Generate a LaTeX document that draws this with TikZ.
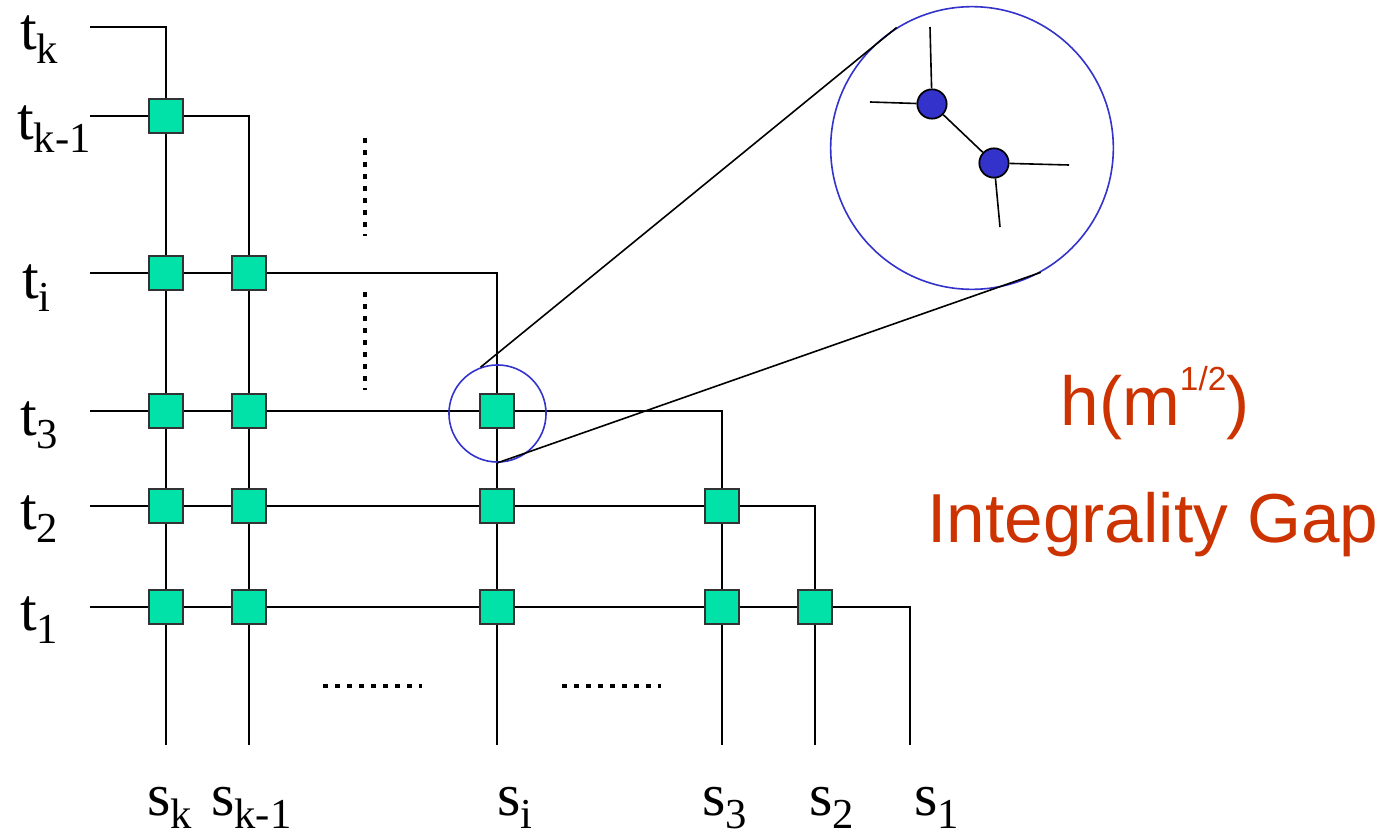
\documentclass[tikz,border=0pt]{standalone}
\usepackage{fontspec}
\setmainfont{Liberation Serif}
\newfontfamily\gapfont{Liberation Sans}
\definecolor{gatecol}{RGB}{0,226,168}
\definecolor{ringcol}{RGB}{51,51,204}
\definecolor{gapcol}{RGB}{204,51,0}
\newcommand{\lbl}[2]{#1\raisebox{-10pt}{\fontsize{32}{36}\selectfont #2}}
\tikzset{
  wire/.style={line width=1.4pt},
  gate/.style={draw=black!80,line width=1.3pt,fill=gatecol,minimum size=25pt,inner sep=0pt},
  vtx/.style={circle,draw=black,line width=1.3pt,fill=ringcol,minimum size=22pt,inner sep=0pt},
  ring/.style={circle,draw=ringcol,line width=1.2pt,inner sep=0pt},
  dots/.style={line width=3.4pt,dash pattern=on 3.4pt off 5.6pt},
  lab/.style={anchor=base west,inner sep=0pt,font=\fontsize{45}{54}\selectfont},
  gap/.style={anchor=base,inner sep=0pt,text=gapcol,font=\gapfont\fontsize{52}{60}\selectfont}
}
\begin{document}
\begin{tikzpicture}[x=0.75pt,y=-0.75pt]
\useasboundingbox (0,0) rectangle (1393,835);

% wire ends
\coordinate (tk) at (90,27);
\coordinate (tkm) at (90,116);
\coordinate (ti) at (90,273);
\coordinate (t3) at (90,411);
\coordinate (t2) at (90,506);
\coordinate (t1) at (90,607);
\coordinate (sk) at (166,745);
\coordinate (skm) at (249,745);
\coordinate (si) at (497,745);
\coordinate (s3) at (722,745);
\coordinate (s2) at (815,745);
\coordinate (s1) at (910,745);

\draw[wire] (tk) -| (sk);
\draw[wire] (tkm) -| (skm);
\draw[wire] (ti) -| (si);
\draw[wire] (t3) -| (s3);
\draw[wire] (t2) -| (s2);
\draw[wire] (t1) -| (s1);

% crossings
\node[gate] (g1) at (sk |- tkm) {};
\node[gate] (g2) at (sk |- ti) {};
\node[gate] (g3) at (skm |- ti) {};
\node[gate] (g4) at (sk |- t3) {};
\node[gate] (g5) at (skm |- t3) {};
\node[gate] (g6) at (si |- t3) {};
\node[gate] (g7) at (sk |- t2) {};
\node[gate] (g8) at (skm |- t2) {};
\node[gate] (g9) at (si |- t2) {};
\node[gate] (g10) at (s3 |- t2) {};
\node[gate] (g11) at (sk |- t1) {};
\node[gate] (g12) at (skm |- t1) {};
\node[gate] (g13) at (si |- t1) {};
\node[gate] (g14) at (s3 |- t1) {};
\node[gate] (g15) at (s2 |- t1) {};

% dotted gaps
\draw[dots] (365,138) -- (365,236);
\draw[dots] (365,292) -- (365,390);
\draw[dots] (323,686) -- (422,686);
\draw[dots] (562,686) -- (661,686);

% zoom
\node[ring,minimum size=72.8pt] (lens) at (497.5,413.5) {};
\node[ring,minimum size=212pt] (zoomc) at (972,148) {};
\draw[wire,line width=1.2pt] (lens.110) -- (zoomc.122);
\draw[wire,line width=1.2pt] (lens.270) -- (zoomc.299);

\node[vtx] (v1) at (932,104) {};
\node[vtx] (v2) at (994,163) {};
\coordinate (v1n) at (930,27);
\coordinate (v1w) at (870,102);
\coordinate (v2e) at (1069,165);
\coordinate (v2s) at (1000,227);
\draw[wire,line width=1.2pt] (v1) -- (v2);
\draw[wire,line width=1.2pt] (v1) -- (v1n);
\draw[wire,line width=1.2pt] (v1) -- (v1w);
\draw[wire,line width=1.2pt] (v2) -- (v2e);
\draw[wire,line width=1.2pt] (v2) -- (v2s);

% labels
\node[lab] (ltk) at (20,50) {\lbl{t}{k}};
\node[lab] (ltkm) at (17,139) {\lbl{t}{k-1}};
\node[lab] (lti) at (22,298) {\lbl{t}{i}};
\node[lab] (lt3) at (20,435) {\lbl{t}{3}};
\node[lab] (lt2) at (20,529) {\lbl{t}{2}};
\node[lab] (lt1) at (20,630) {\lbl{t}{1}};
\node[lab] (lsk) at (147,815) {\lbl{s}{k}};
\node[lab] (lskm) at (211,815) {\lbl{s}{k-1}};
\node[lab] (lsi) at (497,815) {\lbl{s}{i}};
\node[lab] (ls3) at (702,815) {\lbl{s}{3}};
\node[lab] (ls2) at (809,815) {\lbl{s}{2}};
\node[lab] (ls1) at (914,815) {\lbl{s}{1}};

\node[gap] (order) at (1155,425) {h(m\raisebox{26pt}{\fontsize{25}{28}\selectfont 1/2})};
\node[gap] (igap) at (1153,542) {Integrality Gap};
\end{tikzpicture}
\end{document}
